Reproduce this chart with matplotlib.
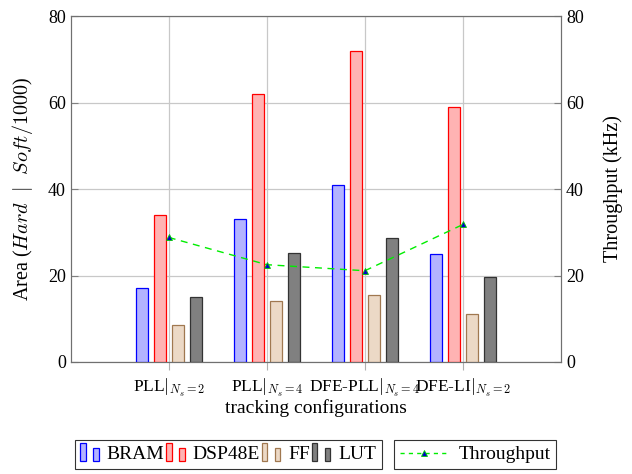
import matplotlib
matplotlib.use("Agg")
import matplotlib.pyplot as plt
import numpy as np
from matplotlib.patches import Rectangle
from matplotlib.legend_handler import HandlerBase
from matplotlib.lines import Line2D
from matplotlib.ticker import FuncFormatter

plt.rcParams["font.family"] = ["Liberation Serif", "DejaVu Serif"]
plt.rcParams["mathtext.fontset"] = "cm"

categories = [r"PLL$|_{N_s=2}$", r"PLL$|_{N_s=4}$",
              r"DFE-PLL$|_{N_s=4}$", r"DFE-LI$|_{N_s=2}$"]
bram = [17, 33, 41, 25]
dsp48e = [34, 62, 72, 59]
ff = [8.5, 14.2, 15.5, 11.0]
lut = [15.1, 25.2, 28.6, 19.7]
throughput = [28.8, 22.5, 21.1, 31.8]

series = [
    ("BRAM", bram, "#b3b3ff", "blue"),
    ("DSP48E", dsp48e, "#ffb3b3", "red"),
    ("FF", ff, "#ecd9c6", "#a07850"),
    ("LUT", lut, "#808080", "#333333"),
]


class TwoBarHandler(HandlerBase):
    def __init__(self, face, edge):
        super().__init__()
        self.face = face
        self.edge = edge

    def create_artists(self, legend, orig_handle, xdescent, ydescent,
                       width, height, fontsize, trans):
        bw = width * 0.26
        r1 = Rectangle((-xdescent, -ydescent - 1), bw, height + 3,
                       facecolor=self.face, edgecolor=self.edge, lw=0.9,
                       transform=trans)
        r2 = Rectangle((-xdescent + width * 0.6, -ydescent - 1), bw, height * 0.75 + 2,
                       facecolor=self.face, edgecolor=self.edge, lw=0.9,
                       transform=trans)
        return [r1, r2]


fig = plt.figure(figsize=(6.32, 4.74), dpi=100)
ax = fig.add_axes([0.1119, 0.2363, 0.7758, 0.7299])

x = np.arange(len(categories))
offsets = [-0.276, -0.092, 0.092, 0.276]
width = 0.125
handles = []
for (name, vals, face, edge), off in zip(series, offsets):
    b = ax.bar(x + off, vals, width, facecolor=face, edgecolor=edge,
               linewidth=0.9, zorder=3, label=name)
    handles.append(b)

ax.set_xlim(-1, 4)
ax.set_ylim(0, 80)
ax.set_yticks([0, 20, 40, 60, 80])
ax.set_xticks(x)
ax.set_xticklabels(categories, fontsize=12.5)
ax.yaxis.set_major_formatter(FuncFormatter(lambda v, p: f"{v:g}"))
ax.tick_params(axis="y", labelsize=13, direction="in", length=5, color="#808080")
ax.tick_params(axis="x", direction="out", length=6, color="#b0b0b0", pad=5)
ax.grid(True, color="#c8c8c8", linewidth=0.9, zorder=0)
ax.set_axisbelow(True)
for s in ax.spines.values():
    s.set_color("#707070")
ax.set_ylabel(r"Area ($Hard\ \ |\ \ Soft/1000$)", fontsize=14.5, labelpad=9)
ax.set_xlabel("tracking configurations", fontsize=14, labelpad=0)

ax2 = ax.twinx()
ax2.set_ylim(0, 80)
ax2.set_yticks([0, 20, 40, 60, 80])
ax2.yaxis.set_major_formatter(FuncFormatter(lambda v, p: f"{v:g}"))
ax2.tick_params(axis="y", labelsize=13, direction="in", length=5, color="#808080")
for s in ax2.spines.values():
    s.set_color("#707070")
line, = ax2.plot(x, throughput, linestyle=(0, (5, 4)), color="#00ee00",
                 linewidth=1.0, marker="^", markersize=5,
                 markerfacecolor="#0000cc", markeredgecolor="#00cc00",
                 markeredgewidth=0.6, zorder=5, label="Throughput")
ax2.set_ylabel("Throughput (kHz)", fontsize=14.5, labelpad=14)

hmap = {h: TwoBarHandler(face, edge) for h, (_, _, face, edge) in zip(handles, series)}
leg1 = fig.legend(handles, [s[0] for s in series], handler_map=hmap,
                  loc="upper left", bbox_to_anchor=(0.118, 0.072),
                  ncol=4, fontsize=14, frameon=True, fancybox=False,
                  edgecolor="black", handlelength=1.1, handletextpad=0.25,
                  columnspacing=0.1, borderpad=0.3, borderaxespad=0)
leg1.get_frame().set_linewidth(0.8)

leg2 = fig.legend([Line2D([0], [0], linestyle=(0, (3, 3)), color="#00ee00", lw=1.0,
                          marker="^", markersize=5, markerfacecolor="#0000cc",
                          markeredgecolor="#00cc00", markeredgewidth=0.6)],
                  ["Throughput"], loc="upper left", bbox_to_anchor=(0.624, 0.072),
                  fontsize=14, frameon=True, fancybox=False, edgecolor="black",
                  handlelength=2.4, handletextpad=0.6, borderpad=0.3, borderaxespad=0)
leg2.get_frame().set_linewidth(0.8)

fig.savefig("out.png", dpi=100)
